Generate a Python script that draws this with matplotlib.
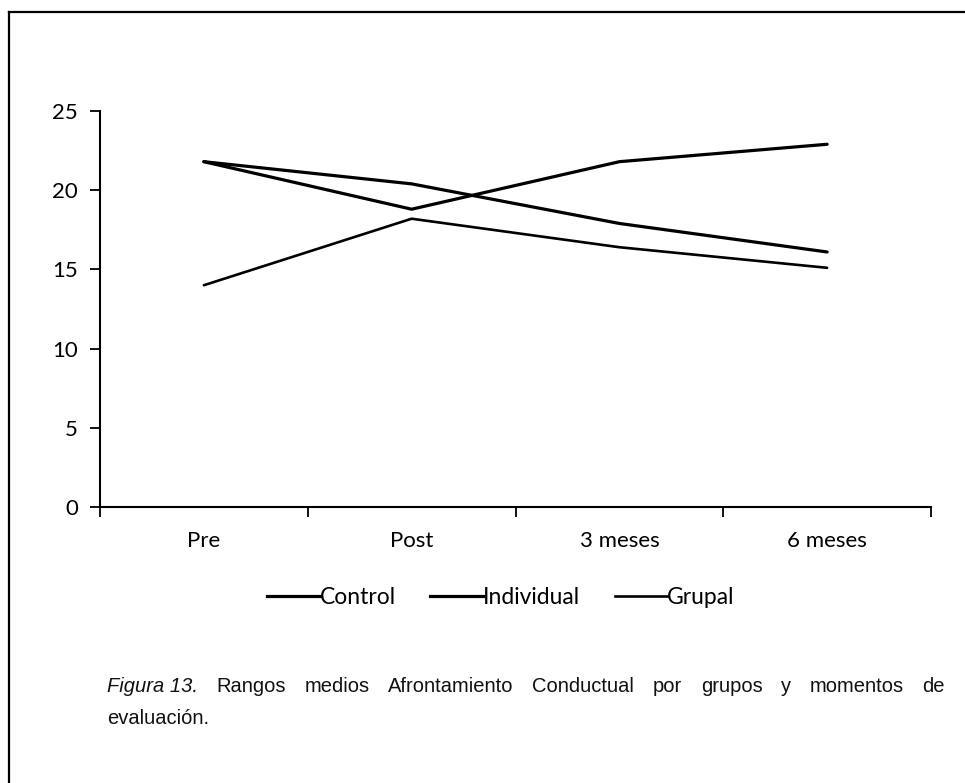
import matplotlib
matplotlib.use("Agg")
import matplotlib.pyplot as plt
from matplotlib.lines import Line2D

categories = ["Pre", "Post", "3 meses", "6 meses"]
series_names = ["Control", "Individual", "Grupal"]
control = [21.8, 18.8, 21.8, 22.9]
individual = [21.8, 20.4, 17.9, 16.1]
grupal = [14.0, 18.2, 16.4, 15.1]
yticks = [0, 5, 10, 15, 20, 25]
caption_line1 = ["Rangos", "medios", "Afrontamiento", "Conductual", "por", "grupos", "y", "momentos", "de"]
caption_line2 = "evaluación."

W, H = 965, 783
fig = plt.figure(figsize=(W / 100, H / 100), dpi=100)
fig.patch.set_facecolor("white")

ax = fig.add_axes([100 / W, 1 - 507 / H, (931 - 100) / W, (507 - 111) / H])
x = list(range(len(categories)))
widths = [2.3, 2.3, 1.9]
for name, vals, lw in zip(series_names, [control, individual, grupal], widths):
    ax.plot(x, vals, color="black", lw=lw, solid_capstyle="round", label=name)

ax.set_xlim(-0.5, len(categories) - 0.5)
ax.set_ylim(0, 25)
ax.set_yticks(yticks)
ax.set_yticklabels([str(v) for v in yticks], family="Lato", fontsize=16)
ax.set_xticks([i + 0.5 for i in [-1] + x])
ax.set_xticklabels([])
ax.set_xticks(x, minor=True)
ax.set_xticklabels(categories, minor=True, family="Lato", fontsize=16)
ax.tick_params(axis="x", which="minor", length=0, pad=17)
ax.tick_params(axis="x", which="major", direction="out", length=7, width=1.3)
ax.tick_params(axis="y", direction="out", length=7, width=1.3, pad=9)
for s in ["top", "right"]:
    ax.spines[s].set_visible(False)
for s in ["left", "bottom"]:
    ax.spines[s].set_linewidth(1.5)

handles = [Line2D([0], [0], color="black", lw=w) for w in widths]
fig.legend(handles, series_names, loc="center", bbox_to_anchor=(501 / W, 1 - 598 / H),
           ncol=3, frameon=False, handlelength=2.3, handletextpad=0.0,
           columnspacing=1.5, prop={"family": "Lato", "size": 16.5})

# frame lines (top and left)
fig.add_artist(Line2D([9 / W, 1], [1 - 12 / H, 1 - 12 / H], color="black", lw=1.6, transform=fig.transFigure))
fig.add_artist(Line2D([9 / W, 9 / W], [1 - 12 / H, 0], color="black", lw=1.6, transform=fig.transFigure))

# caption, justified first line
cap_font = {"family": "Liberation Sans", "size": 14.5, "color": "#111111"}
y1 = 1 - 686 / H
y2 = 1 - 718 / H
left_px, right_px = 107, 945
items = [("Figura 13.", "italic")] + [(w, "normal") for w in caption_line1]
texts = []
for w, st in items:
    texts.append(fig.text(0, y1, w, style=st, va="center", ha="left", **cap_font))
fig.canvas.draw()
r = fig.canvas.get_renderer()
ws = [t.get_window_extent(r).width for t in texts]
gap = (right_px - left_px - sum(ws)) / (len(ws) - 1)
xpos = left_px
for t, w in zip(texts, ws):
    t.set_x(xpos / W)
    xpos += w + gap
fig.text(left_px / W, y2, caption_line2, va="center", ha="left", **cap_font)

fig.savefig("out.png", dpi=100)
